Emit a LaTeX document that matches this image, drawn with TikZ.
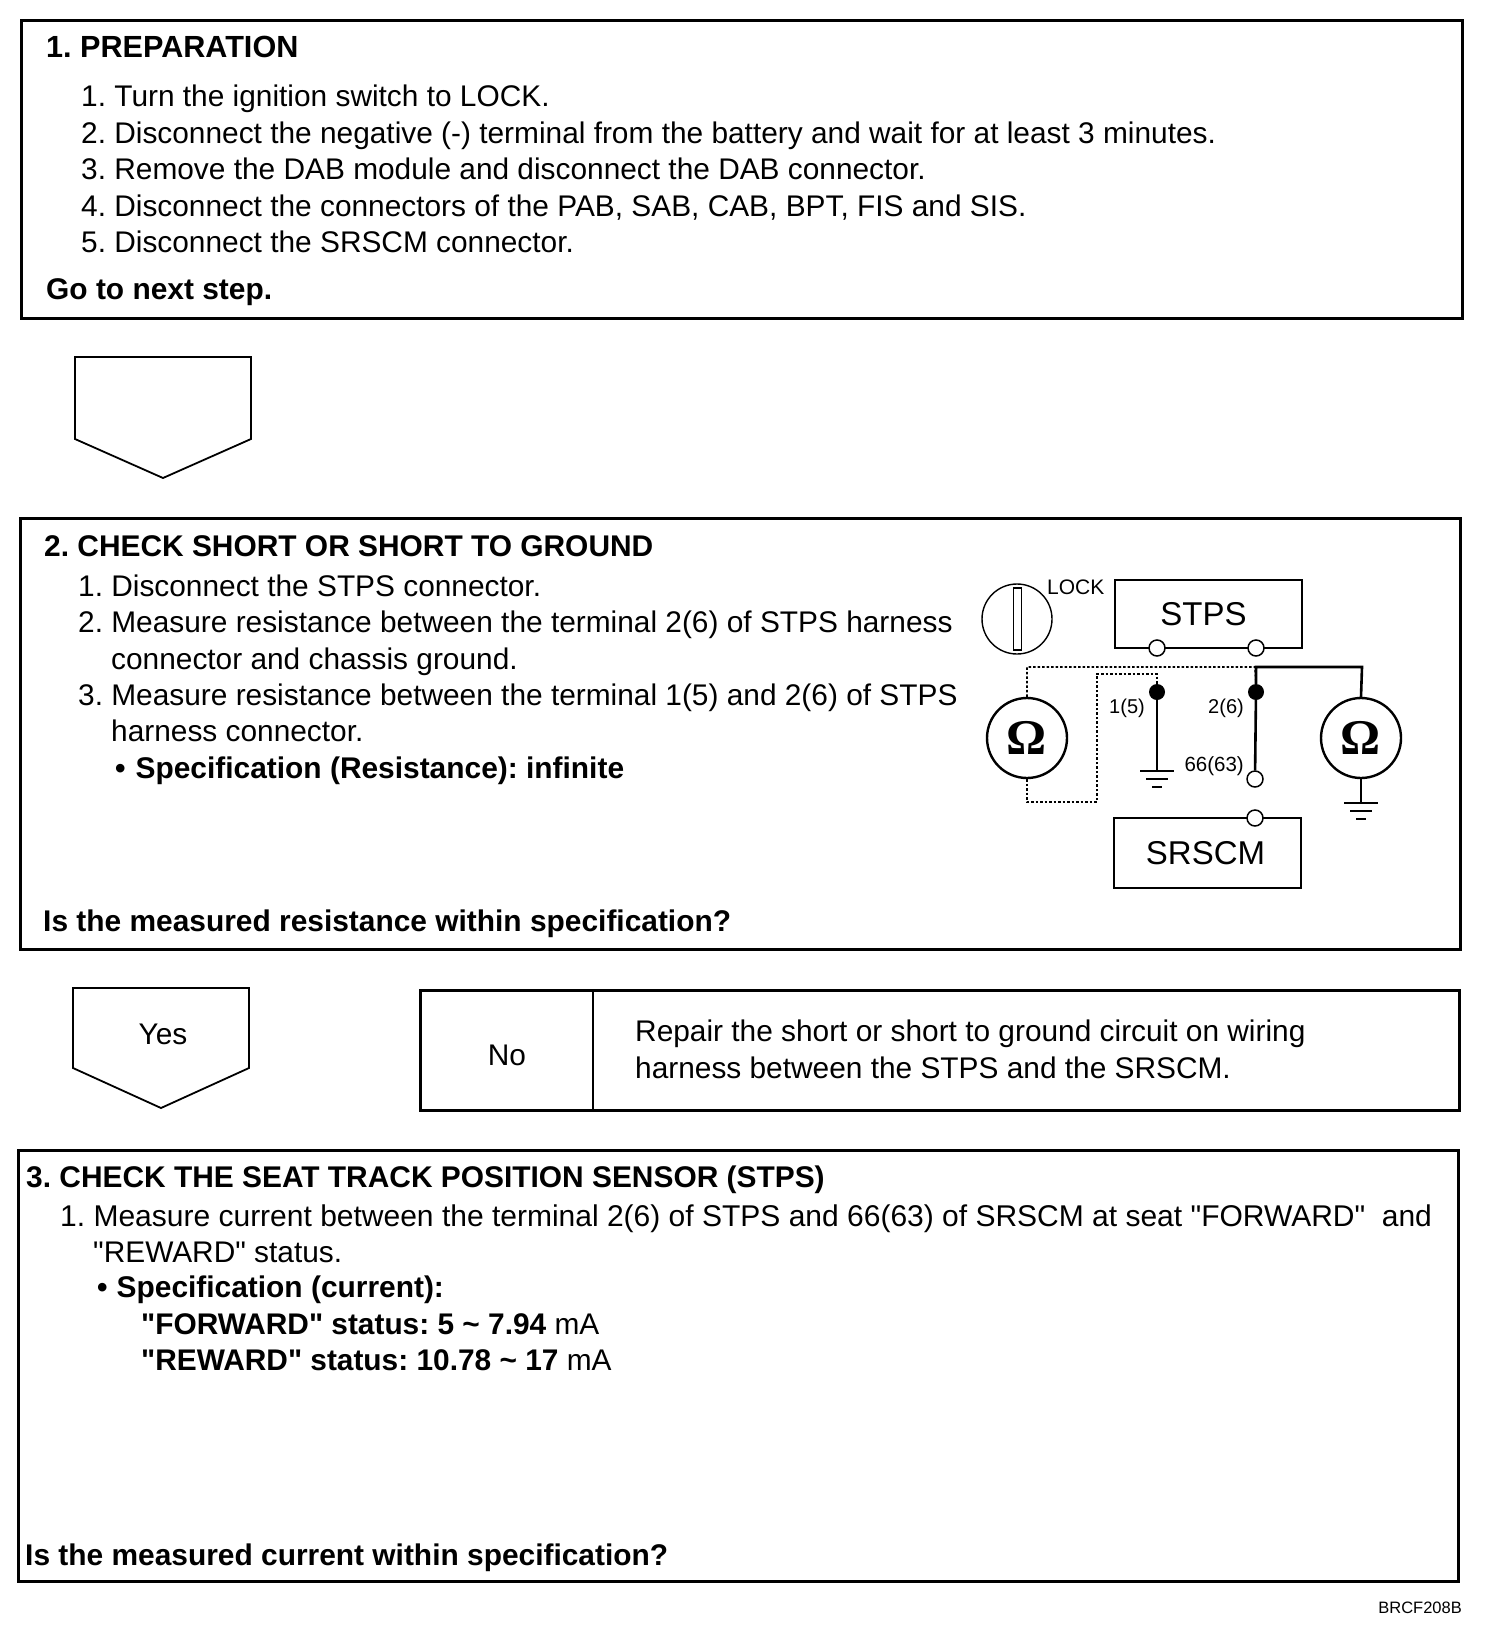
\documentclass[tikz,border=0pt]{standalone}
\usepackage{fontspec}
\setmainfont{Liberation Sans}
\newfontfamily\ohmfont{Liberation Serif}
\usetikzlibrary{calc}
\tikzset{
  panel/.style={draw,line width=3pt},
  txt/.style={anchor=base west,inner sep=0pt,font=\fontsize{29.85}{30}\selectfont\frenchspacing},
  ttl/.style={txt,font=\fontsize{29.9}{30}\selectfont\bfseries\frenchspacing},
  meter/.style={circle,draw,line width=2.4pt,minimum size=80pt,inner sep=0pt,font=\fontsize{50}{50}\selectfont\ohmfont\bfseries},
  unit/.style={draw,line width=1.4pt,inner sep=0pt,font=\fontsize{33}{33}\selectfont},
  pin/.style={circle,draw,fill=white,line width=1.5pt,minimum size=16pt,inner sep=0pt},
  dot/.style={circle,fill=black,minimum size=16pt,inner sep=0pt},
  small/.style={anchor=base east,inner sep=0pt,font=\fontsize{20}{20}\selectfont},
  wire/.style={line width=1.4pt},
  heavy/.style={line width=2.6pt},
  probe/.style={line width=1.6pt,dash pattern=on 2.5pt off 2pt}
}
\begin{document}
\begin{tikzpicture}[x=1pt,y=-1pt]
\useasboundingbox (0,0) rectangle (1504,1638);

% panels
\draw[panel] (21,20) rectangle (1462,318);
\draw[panel] (20,518) rectangle (1460,949);
\draw[panel] (18,1150) rectangle (1458,1581);
\draw[line width=1.8pt] (75,357) -- (251,357) -- (251,439) -- (163,478) -- (75,439) -- cycle;
\draw[line width=1.8pt] (73,988) -- (249,988) -- (249,1068) -- (161,1108) -- (73,1068) -- cycle;
\draw[panel] (420,990) rectangle (1459,1110);
\draw[line width=2pt] (593,990) -- (593,1110);

% step 1
\node[ttl,font=\fontsize{30.6}{30}\selectfont\bfseries\frenchspacing] (head1) at (46,57) {1. PREPARATION};
\node[txt] (a1) at (81,106) {1. Turn the ignition switch to LOCK.};
\node[txt] (a2) at (81,143) {2. Disconnect the negative (-) terminal from the battery and wait for at least 3 minutes.};
\node[txt] (a3) at (81,179) {3. Remove the DAB module and disconnect the DAB connector.};
\node[txt] (a4) at (81,216) {4. Disconnect the connectors of the PAB, SAB, CAB, BPT, FIS and SIS.};
\node[txt] (a5) at (81,252) {5. Disconnect the SRSCM connector.};
\node[ttl] (next1) at (46,299) {Go to next step.};

% step 2
\node[ttl] (head2) at (44,556) {2. CHECK SHORT OR SHORT TO GROUND};
\node[txt] (b1) at (78,596) {1. Disconnect the STPS connector.};
\node[txt] (b2) at (78,632) {2. Measure resistance between the terminal 2(6) of STPS harness};
\node[txt] (b2a) at (111,669) {connector and chassis ground.};
\node[txt] (b3) at (78,705) {3. Measure resistance between the terminal 1(5) and 2(6) of STPS};
\node[txt] (b3a) at (111,741) {harness connector.};
\node[ttl] (b4) at (115,778) {\textbullet\hspace{10pt}Specification (Resistance): infinite};
\node[ttl] (ask2) at (43,931) {Is the measured resistance within specification?};

% yes / no
\node[txt,anchor=base] (yes) at (163,1044) {Yes};
\node[txt,anchor=base] (no) at (507,1065) {No};
\node[txt] (c1) at (635,1041) {Repair the short or short to ground circuit on wiring};
\node[txt] (c2) at (635,1078) {harness between the STPS and the SRSCM.};

% step 3
\node[ttl] (head3) at (26,1187) {3. CHECK THE SEAT TRACK POSITION SENSOR (STPS)};
\node[txt,font=\fontsize{30}{30}\selectfont\frenchspacing] (d1) at (60,1226) {1. Measure current between the terminal 2(6) of STPS and 66(63) of SRSCM at seat \textquotedbl FORWARD\textquotedbl\ \ and};
\node[txt] (d1a) at (93,1262) {\textquotedbl REWARD\textquotedbl\ status.};
\node[ttl] (d2) at (97,1297) {\textbullet\hspace{9pt}Specification (current):};
\node[txt] (d3) at (141,1334) {\textbf{\textquotedbl FORWARD\textquotedbl\ status: 5 \textasciitilde\ 7.94} mA};
\node[txt] (d4) at (141,1370) {\textbf{\textquotedbl REWARD\textquotedbl\ status: 10.78 \textasciitilde\ 17} mA};
\node[ttl] (ask3) at (25,1565) {Is the measured current within specification?};
\node[small,font=\fontsize{16.5}{16}\selectfont] (code) at (1462,1613) {BRCF208B};

% circuit
\node[unit,minimum width=187pt,minimum height=68pt] (stps) at (1208.5,614) {\hspace*{-10pt}STPS};
\node[unit,minimum width=187pt,minimum height=70pt] (srscm) at (1207.5,853) {\hspace*{-4pt}SRSCM};
\node[circle,draw,line width=1.4pt,minimum size=70pt,inner sep=0pt] (key) at (1017,619) {};
\node[draw,line width=1.4pt,minimum width=8pt,minimum height=62pt,inner sep=0pt] (slot) at (1017.5,619) {};
\node[small,anchor=base west,font=\fontsize{21}{21}\selectfont] (lock) at (1047,594) {LOCK};

\node[meter] (ohmL) at (1027,738) {\symbol{"03A9}};
\node[meter] (ohmR) at (1361,738) {\symbol{"03A9}};

\node[pin] (p1) at (1157,648) {};
\node[pin] (p2) at (1256,648) {};
\node[dot] (t1) at (1157,692) {};
\node[dot] (t2) at (1256,692) {};
\node[pin] (t66) at (1255,779) {};
\node[pin] (s66) at (1255,818) {};
\node[small] (l1) at (1145,713) {1(5)};
\node[small] (l2) at (1244,713) {2(6)};
\node[small,font=\fontsize{20.5}{20}\selectfont] (l66) at (1244,771) {66(63)};

\coordinate (gndA) at (1157,771);
\coordinate (gndB) at (1361,803);
\draw[heavy] (t2) -- (t66);
\draw[wire] (t1) -- (gndA);
\draw[wire] (ohmR.south) -- (gndB);
\draw[heavy] (t2.north) |- (1362,667) -- (ohmR.north);
\draw[probe] (ohmL.north) |- (1255,667) -- (t2.north);
\draw[probe] (ohmL.south) |- (1097,802) |- (1157,674) -- (t1.north);
\foreach \g in {gndA,gndB} {
  \draw[wire] ($(\g)+(-17,0)$) -- ($(\g)+(17,0)$);
  \draw[wire] ($(\g)+(-11,8)$) -- ($(\g)+(11,8)$);
  \draw[wire] ($(\g)+(-5,16)$) -- ($(\g)+(5,16)$);
}
\end{tikzpicture}
\end{document}
